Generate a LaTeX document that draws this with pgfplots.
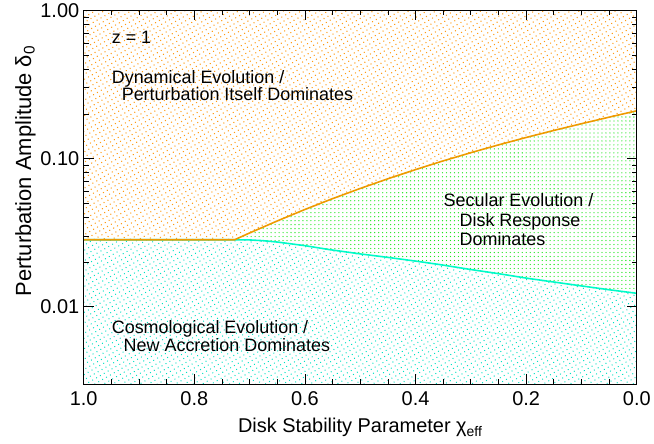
\documentclass[border=0pt]{standalone}
\usepackage{pgfplots}
\pgfplotsset{compat=1.18}
\usepackage{fontspec}
\setmainfont{Liberation Sans}
\usetikzlibrary{patterns.meta}
\definecolor{orangeline}{RGB}{238,154,0}
\definecolor{orangedot}{RGB}{255,155,20}
\definecolor{greendot}{RGB}{30,230,30}
\definecolor{cyanline}{RGB}{0,250,200}
\definecolor{cyandot}{RGB}{0,225,195}
\begin{document}
\begin{tikzpicture}
\begin{axis}[
  name=ax, scale only axis, width=555bp, height=375bp,
  xmin=0, xmax=1, x dir=reverse,
  ymode=log, ymin=0.003, ymax=1,
  xtick={0,0.2,0.4,0.6,0.8,1}, xticklabels={0.0,0.2,0.4,0.6,0.8,1.0},
  minor x tick num=3,
  ytick={0.01,0.1,1}, yticklabels={0.01,0.10,1.00},
  tick align=inside, major tick length=10bp, minor tick length=5bp,
  every tick/.style={black, line width=0.8bp},
  axis line style={line width=1bp},
  axis on top,
  tick label style={font=\fontsize{20bp}{24bp}\selectfont},
  xticklabel style={yshift=-4bp},
  yticklabel style={xshift=-1bp},
  xlabel style={font=\fontsize{20bp}{24bp}\selectfont, yshift=-6bp},
  ylabel style={font=\fontsize{22bp}{26bp}\selectfont, at={(ticklabel cs:0.57)}, yshift=-2bp},
  xlabel={Disk Stability Parameter χ\textsubscript{eff}},
  ylabel={Perturbation Amplitude δ\textsubscript{0}},
]
% top region
\addplot[draw=none, pattern={Dots[distance=4.5bp, radius=0.75bp, angle=30]}, pattern color=orangedot] coordinates {
(1,0.0283) (0.727,0.0283) (0.7,0.03144) (0.65,0.0379) (0.6,0.0453) (0.55,0.0536) (0.5,0.0628) (0.45,0.0730) (0.4,0.0842) (0.35,0.0964) (0.3,0.1095) (0.25,0.1236) (0.2,0.1387) (0.15,0.1547) (0.1,0.1718) (0.05,0.1902) (0,0.21) (0,1) (1,1)};
% middle region
\addplot[draw=none, pattern={Dots[distance=4bp, radius=0.65bp]}, pattern color=greendot] coordinates {
(0.727,0.0283) (0.7,0.03144) (0.65,0.0379) (0.6,0.0453) (0.55,0.0536) (0.5,0.0628) (0.45,0.0730) (0.4,0.0842) (0.35,0.0964) (0.3,0.1095) (0.25,0.1236) (0.2,0.1387) (0.15,0.1547) (0.1,0.1718) (0.05,0.1902) (0,0.21)
(0,0.0123) (0.05,0.0130) (0.1,0.0138) (0.196,0.0155) (0.25,0.0167) (0.3,0.0178) (0.359,0.0193) (0.4,0.0203) (0.45,0.0215) (0.5,0.0227) (0.557,0.0243) (0.6,0.0258) (0.65,0.0273) (0.677,0.0279) (0.70,0.0282)};
% bottom region
\addplot[draw=none, pattern={Dots[distance=4.5bp, radius=0.7bp, angle=30]}, pattern color=cyandot] coordinates {
(1,0.0283) (0.727,0.0283) (0.70,0.0282) (0.677,0.0279) (0.65,0.0273) (0.6,0.0258) (0.557,0.0243) (0.5,0.0227) (0.45,0.0215) (0.4,0.0203) (0.359,0.0193) (0.3,0.0178) (0.25,0.0167) (0.196,0.0155) (0.1,0.0138) (0.05,0.0130) (0,0.0123) (0,0.003) (1,0.003)};
% boundaries
\addplot[cyanline, line width=1.6bp] coordinates {
(1,0.0283) (0.727,0.0283) (0.70,0.0282) (0.677,0.0279) (0.65,0.0273) (0.6,0.0258) (0.557,0.0243) (0.5,0.0227) (0.45,0.0215) (0.4,0.0203) (0.359,0.0193) (0.3,0.0178) (0.25,0.0167) (0.196,0.0155) (0.1,0.0138) (0.05,0.0130) (0,0.0123)};
\addplot[orangeline, line width=1.6bp] coordinates {
(1,0.0283) (0.727,0.0283) (0.7,0.03144) (0.65,0.0379) (0.6,0.0453) (0.55,0.0536) (0.5,0.0628) (0.45,0.0730) (0.4,0.0842) (0.35,0.0964) (0.3,0.1095) (0.25,0.1236) (0.2,0.1387) (0.15,0.1547) (0.1,0.1718) (0.05,0.1902) (0,0.21)};
% annotations
\begin{scope}[every node/.style={font=\fontsize{18bp}{20bp}\selectfont, inner sep=0pt, anchor=base west}]
\node at (axis cs:0.9495,0.601) {z = 1};
\node at (axis cs:0.9495,0.3227) {Dynamical Evolution /};
\node at (axis cs:0.9315,0.246) {Perturbation Itself Dominates};
\node at (axis cs:0.3495,0.0475) {Secular Evolution /};
\node at (axis cs:0.3207,0.0348) {Disk Response};
\node at (axis cs:0.3207,0.02594) {Dominates};
\node at (axis cs:0.9495,0.006549) {Cosmological Evolution /};
\node at (axis cs:0.928,0.004955) {New Accretion Dominates};
\end{scope}
\end{axis}
\path ([shift={(-84bp,-60bp)}]ax.south west) rectangle ([shift={(15bp,6bp)}]ax.north east);
\end{tikzpicture}
\end{document}
